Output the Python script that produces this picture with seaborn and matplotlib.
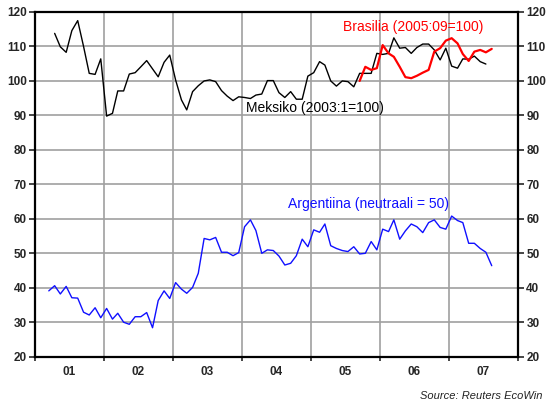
import numpy as np
import pandas as pd
import matplotlib
matplotlib.use("Agg")
import matplotlib.pyplot as plt
import matplotlib.dates as mdates
import seaborn as sns

# monthly values
mexico_start = "2001-04"
mexico = [113.8, 109.9, 108.3, 114.6, 117.5, 110.0, 102.2, 101.9, 106.4, 89.8,
          90.6, 97.1, 97.1, 102.0, 102.4, 104.1, 105.9, 103.5, 101.2, 105.4,
          107.5, 100.3, 94.5, 91.6, 96.9, 98.6, 100.0, 100.3, 99.8, 97.2,
          95.6, 94.3, 95.4, 95.2, 94.9, 95.9, 96.2, 100.1, 100.1, 96.6,
          95.2, 96.9, 94.7, 94.7, 101.4, 102.4, 105.6, 104.6, 100.0, 98.5,
          100.0, 99.8, 98.3, 102.2, 102.2, 102.2, 108.0, 107.7, 108.0, 112.5,
          109.5, 109.7, 108.0, 109.7, 110.7, 110.7, 109.0, 106.1, 109.5, 104.3,
          103.7, 106.4, 106.3, 107.2, 105.6, 104.9]

brazil_start = "2005-09"
brazil = [100.0, 104.1, 103.2, 103.7, 110.4, 108.0, 107.0, 104.1, 101.1, 100.8,
          101.5, 102.4, 103.2, 108.5, 109.5, 111.7, 112.4, 110.9, 107.8, 105.8,
          108.5, 109.0, 108.3, 109.3]

argentina_start = "2001-03"
argentina = [39.1, 40.6, 38.2, 40.4, 37.1, 37.0, 32.9, 32.1, 34.2, 31.3,
             34.0, 30.9, 32.6, 30.0, 29.4, 31.6, 31.6, 32.8, 28.4, 36.3,
             39.1, 36.9, 41.5, 39.6, 38.4, 40.1, 44.2, 54.3, 53.9, 54.6,
             50.3, 50.3, 49.3, 50.2, 57.7, 59.7, 56.6, 50.0, 51.0, 50.8,
             49.2, 46.6, 47.1, 49.3, 54.1, 51.9, 56.8, 56.1, 58.5, 52.2,
             51.4, 50.8, 50.5, 51.9, 49.8, 50.0, 53.4, 51.0, 57.0, 56.3,
             59.7, 54.1, 56.5, 58.5, 57.7, 56.0, 58.9, 59.7, 57.5, 57.0,
             60.8, 59.5, 58.9, 52.9, 52.9, 51.4, 50.3, 46.4]

year_labels = ["01", "02", "03", "04", "05", "06", "07"]


def monthly(start, values, name):
    d = pd.date_range(start, periods=len(values), freq="MS") + pd.Timedelta(days=14)
    return pd.DataFrame({"date": d, "value": values, "series": name})


df = pd.concat([monthly(mexico_start, mexico, "Meksiko"),
                monthly(brazil_start, brazil, "Brasilia"),
                monthly(argentina_start, argentina, "Argentiina")])

sns.set_style("white")
plt.rcParams["font.family"] = ["Liberation Sans", "DejaVu Sans"]

fig = plt.figure(figsize=(5.49, 4.05), dpi=100)
ax = fig.add_axes([35/549, 1 - 356.7/405, (518 - 35)/549, (356.7 - 12)/405])

sns.lineplot(data=df[df.series == "Meksiko"], x="date", y="value", color="black",
             linewidth=1.0, ax=ax, legend=False)
sns.lineplot(data=df[df.series == "Argentiina"], x="date", y="value", color="#1010ff",
             linewidth=1.0, ax=ax, legend=False)
sns.lineplot(data=df[df.series == "Brasilia"], x="date", y="value", color="#ff0000",
             linewidth=1.6, ax=ax, legend=False)

ax.set_xlim(pd.Timestamp("2001-01-01"), pd.Timestamp("2008-01-01"))
ax.set_ylim(20, 120)
ax.set_yticks(np.arange(20, 121, 10))
ax.xaxis.set_major_locator(mdates.YearLocator())
ax.xaxis.set_major_formatter(plt.NullFormatter())
ax.xaxis.set_minor_locator(mdates.MonthLocator(bymonth=7))
ax.xaxis.set_minor_formatter(plt.FixedFormatter(year_labels))
ax.set_xlabel("")
ax.set_ylabel("")

ax.grid(True, which="major", color="#a0a0a0", linewidth=1.2)
for s in ax.spines.values():
    s.set_color("black")
    s.set_linewidth(1.6)

ax.tick_params(axis="y", which="major", left=True, right=True, labelleft=True,
               labelright=True, direction="out", length=4, width=1.2,
               labelsize=8.5, pad=2)
ax.tick_params(axis="x", which="major", bottom=True, direction="out", length=3, width=1.2)
ax.tick_params(axis="x", which="minor", bottom=False, labelsize=8.5, pad=5)
for lab in ax.get_xticklabels(which="minor"):
    lab.set_fontweight("bold")
for t in ax.yaxis.get_major_ticks():
    t.label1.set_fontweight("bold")
    t.label2.set_fontweight("bold")

ax.text(pd.Timestamp("2006-06-25"), 115.7, "Brasilia (2005:09=100)", color="#ff0000",
        fontsize=10, ha="center", va="center")
ax.text(pd.Timestamp("2005-01-22"), 92.1, "Meksiko (2003:1=100)", color="black",
        fontsize=10, ha="center", va="center")
ax.text(pd.Timestamp("2005-10-30"), 64.3, "Argentiina (neutraali = 50)", color="#1010ff",
        fontsize=10, ha="center", va="center")
fig.text(543/549, 1 - 396/405, "Source: Reuters EcoWin", fontsize=8,
         style="italic", ha="right", va="center", color="#222222")

fig.savefig("out.png", dpi=100)
